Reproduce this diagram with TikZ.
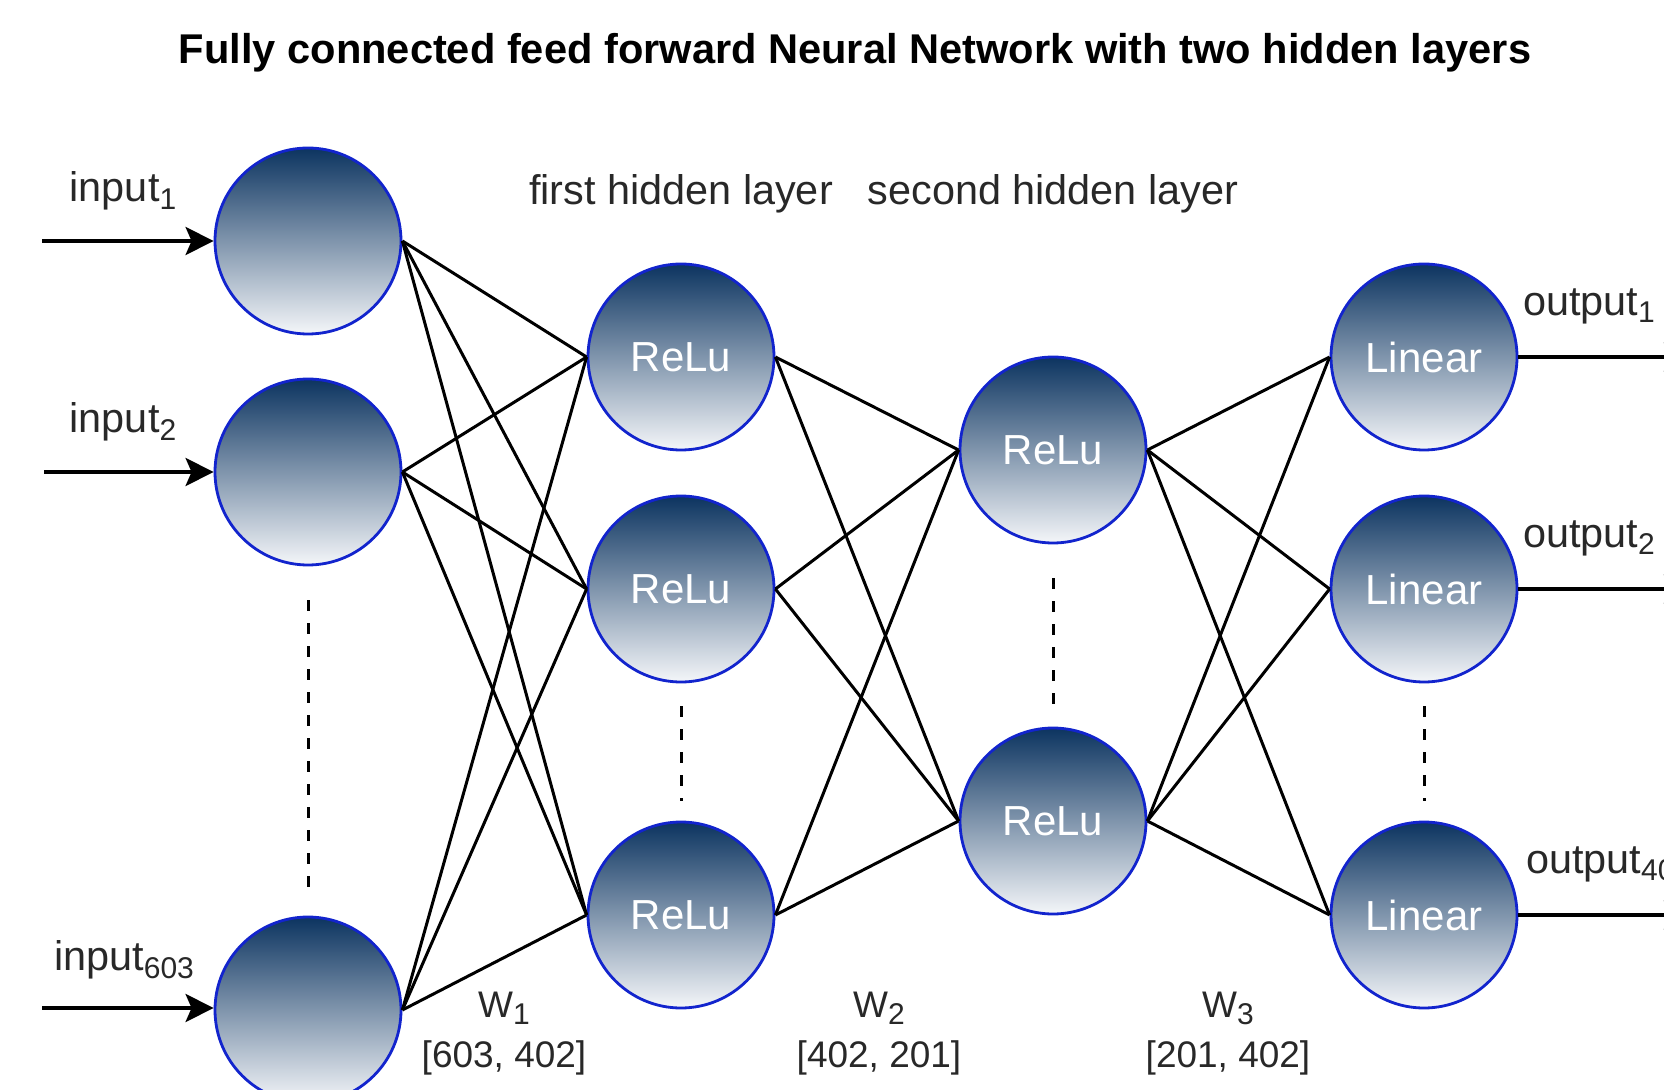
\documentclass[tikz,border=0pt]{standalone}
\usepackage{fontspec}
\setmainfont{Liberation Sans}
\usetikzlibrary{arrows.meta,positioning}
\definecolor{nodetop}{RGB}{12,52,96}
\definecolor{nodebot}{RGB}{244,246,249}
\definecolor{nodeline}{RGB}{18,36,205}
\definecolor{labgray}{RGB}{40,40,40}
\newcommand\lsub[1]{\raisebox{-0.35ex}{\fontsize{15}{15}\selectfont #1}}

\begin{document}
\begin{tikzpicture}[x=0.5pt,y=-0.5pt,>={Stealth[length=14pt,width=14pt,inset=3pt]},
  every node/.style={font=\fontsize{20.7}{24}\selectfont,text=labgray},
  neuron/.style={circle,draw=nodeline,line width=1.4pt,minimum size=93pt,inner sep=0pt,
    top color=nodetop,bottom color=nodebot,text=white,font=\fontsize{21}{25}\selectfont},
  wire/.style={line width=1.5pt},
  flow/.style={->,line width=2pt},
  dots/.style={dash pattern=on 5.5pt off 6pt,line width=1.5pt},
  wlab/.style={font=\fontsize{18.5}{22}\selectfont}]
  \clip (0,0) rectangle (1664,1090);
  \node[font=\bfseries\fontsize{20.8}{24}\selectfont,text=black] (title) at (855,53)
    {Fully connected feed forward Neural Network with two hidden layers};
  % layers
  \node[neuron] (i1) at (308,241) {};
  \node[neuron] (i2) at (308,472) {};
  \node[neuron] (i3) at (308,1010) {};
  \node[neuron] (h1) at (681,357) {ReLu};
  \node[neuron] (h2) at (681,589) {ReLu};
  \node[neuron] (h3) at (681,915) {ReLu};
  \node[neuron] (g1) at (1053,450) {ReLu};
  \node[neuron] (g2) at (1053,821) {ReLu};
  \node[neuron] (o1) at (1424,357) {Linear};
  \node[neuron] (o2) at (1424,589) {Linear};
  \node[neuron] (o3) at (1424,915) {Linear};
  % weights
  \foreach \a in {i1,i2,i3} \foreach \b in {h1,h2,h3} \draw[wire] (\a.east) -- (\b.west);
  \foreach \a in {h1,h2,h3} \foreach \b in {g1,g2} \draw[wire] (\a.east) -- (\b.west);
  \foreach \a in {g1,g2} \foreach \b in {o1,o2,o3} \draw[wire] (\a.east) -- (\b.west);
  \draw[dots] (308,600) -- (308,891);
  \draw[dots] (681,706) -- (681,801);
  \draw[dots] (1053,578) -- (1053,706);
  \draw[dots] (1424,706) -- (1424,801);
  % in and out
  \coordinate (s1) at (42,241);
  \coordinate (s2) at (44,472);
  \coordinate (s3) at (42,1008);
  \draw[flow] (s1) -- (i1);
  \draw[flow] (s2) -- (i2);
  \draw[flow] (s3) -- (i3.west|-s3);
  \coordinate (e1) at (1692,357);
  \coordinate (e2) at (1692,589);
  \coordinate (e3) at (1692,915);
  \draw[flow] (o1) -- (e1);
  \draw[flow] (o2) -- (e2);
  \draw[flow] (o3) -- (e3);
  \node (in1) at (123,191) {input\lsub{1}};
  \node (in2) at (123,422) {input\lsub{2}};
  \node (in3) at (124,960) {input\lsub{603}};
  \node[anchor=west] (out1) at (1516,306) {output\lsub{1}};
  \node[anchor=west] (out2) at (1516,538) {output\lsub{2}};
  \node[anchor=west] (out3) at (1519,864) {output\lsub{402}};
  \node (l1) at (681,194) {first hidden layer};
  \node (l2) at (1053,194) {second hidden layer};
  \node[wlab] (w1) at (504,1008) {W\lsub{1}};
  \node[wlab] (d1) at (504,1058) {[603, 402]};
  \node[wlab] (w2) at (879,1008) {W\lsub{2}};
  \node[wlab] (d2) at (879,1058) {[402, 201]};
  \node[wlab] (w3) at (1228,1008) {W\lsub{3}};
  \node[wlab] (d3) at (1228,1058) {[201, 402]};
\end{tikzpicture}
\end{document}
